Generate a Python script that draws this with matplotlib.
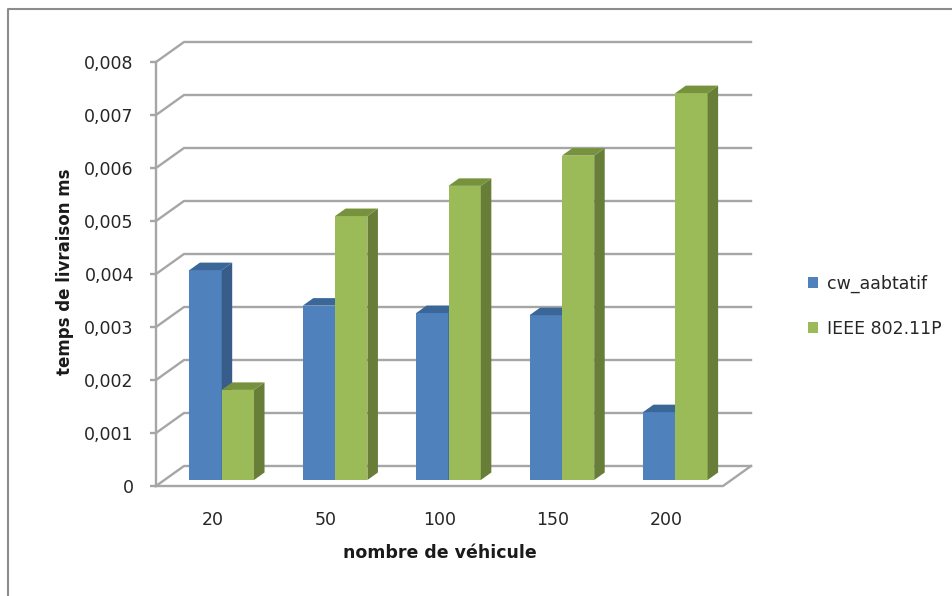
import matplotlib
matplotlib.use("Agg")
import matplotlib.pyplot as plt
from matplotlib.patches import Polygon, Patch
from matplotlib.lines import Line2D
from matplotlib.ticker import FuncFormatter

categories = ["20", "50", "100", "150", "200"]
cw_aabtatif = [0.00396, 0.00329, 0.00315, 0.00311, 0.00128]
ieee_80211p = [0.00170, 0.00498, 0.00555, 0.00612, 0.00730]
series_names = ["cw_aabtatif", "IEEE 802.11P"]
y_ticks = [0, 0.001, 0.002, 0.003, 0.004, 0.005, 0.006, 0.007, 0.008]

W, H = 953, 596
fig = plt.figure(figsize=(W / 100, H / 100), dpi=100)
fig.patch.set_facecolor("white")

# front plot area in pixels
x0, x1 = 156, 723
ytop, ybot = 62, 486
ax = fig.add_axes([x0 / W, (H - ybot) / H, (x1 - x0) / W, (ybot - ytop) / H])
ax.set_xlim(-0.5, 4.5)
ax.set_ylim(0, 0.008)
ax.set_facecolor("none")

pxx = (x1 - x0) / 5.0          # pixels per category
pxy = (ybot - ytop) / 0.008    # pixels per value unit

def dxp(p):
    return p / pxx

def dyp(p):
    return p / pxy

WX, WY = dxp(28), dyp(20)      # wall depth offset
BX, BY = dxp(9), dyp(6)        # bar depth position
DX, DY = dxp(10.5), dyp(7.5)   # bar depth
bw = 0.285

grid_c = "#a6a6a6"
# back wall gridlines with left-side diagonals
for v in y_ticks:
    ax.add_line(Line2D([-0.5, -0.5 + WX, 4.5 + WX], [v, v + WY, v + WY],
                       color=grid_c, lw=1.7, clip_on=False, zorder=1))
# floor front edge and right diagonal
ax.add_line(Line2D([-0.5, 4.5, 4.5 + WX], [0, 0, WY],
                   color=grid_c, lw=1.7, clip_on=False, zorder=1))

def bar3d(xl, h, front, side, top):
    ax.bar(xl, h, width=bw, bottom=BY, align="edge", color=front,
           linewidth=0, zorder=3, clip_on=False)
    xr = xl + bw
    ax.add_patch(Polygon([[xr, BY], [xr + DX, BY + DY], [xr + DX, BY + h + DY], [xr, BY + h]],
                         closed=True, facecolor=side, edgecolor="none", zorder=3, clip_on=False))
    ax.add_patch(Polygon([[xl, BY + h], [xr, BY + h], [xr + DX, BY + h + DY], [xl + DX, BY + h + DY]],
                         closed=True, facecolor=top, edgecolor="none", zorder=3, clip_on=False))

for i in range(len(categories)):
    c = i + BX
    bar3d(c - bw, cw_aabtatif[i], "#4f81bd", "#385d8a", "#3b6698")
    bar3d(c, ieee_80211p[i], "#9bbb59", "#677d38", "#76923c")

# axes styling
for s in ["top", "right", "bottom"]:
    ax.spines[s].set_visible(False)
ax.spines["left"].set_color(grid_c)
ax.spines["left"].set_linewidth(1.7)
ax.set_yticks(y_ticks)
ax.yaxis.set_major_formatter(FuncFormatter(lambda v, p: "0" if abs(v) < 1e-12 else f"{v:.3f}".replace(".", ",")))
ax.tick_params(axis="y", direction="out", length=4, width=1.7, color=grid_c,
               pad=12, labelsize=12.5, labelcolor="#262626")
ax.set_xticks(range(len(categories)))
ax.set_xticklabels(categories)
ax.tick_params(axis="x", length=0, pad=18, labelsize=12.5, labelcolor="#262626")

ax.set_xlabel("nombre de véhicule", fontsize=12.5, fontweight="bold", color="#1a1a1a",
              labelpad=11)
fig.text(65 / W, 1 - 272 / H, "temps de livraison ms", rotation=90, ha="center", va="center",
         fontsize=12, fontweight="bold", color="#1a1a1a")

handles = [Patch(facecolor="#4f81bd", edgecolor="none"), Patch(facecolor="#9bbb59", edgecolor="none")]
fig.legend(handles, series_names, loc="center left", bbox_to_anchor=(792 / W, 1 - 306 / H),
           frameon=False, fontsize=12.5, handlelength=0.6, handleheight=0.6, handletextpad=0.5,
           labelspacing=1.55, labelcolor="#262626")

# outer chart border (top and left visible)
fig.add_artist(Line2D([8 / W, 8 / W, 1.0], [0.0, 1 - 9 / H, 1 - 9 / H],
                      transform=fig.transFigure, color="#8c8c8c", lw=1.5))

fig.savefig("out.png", dpi=100)
